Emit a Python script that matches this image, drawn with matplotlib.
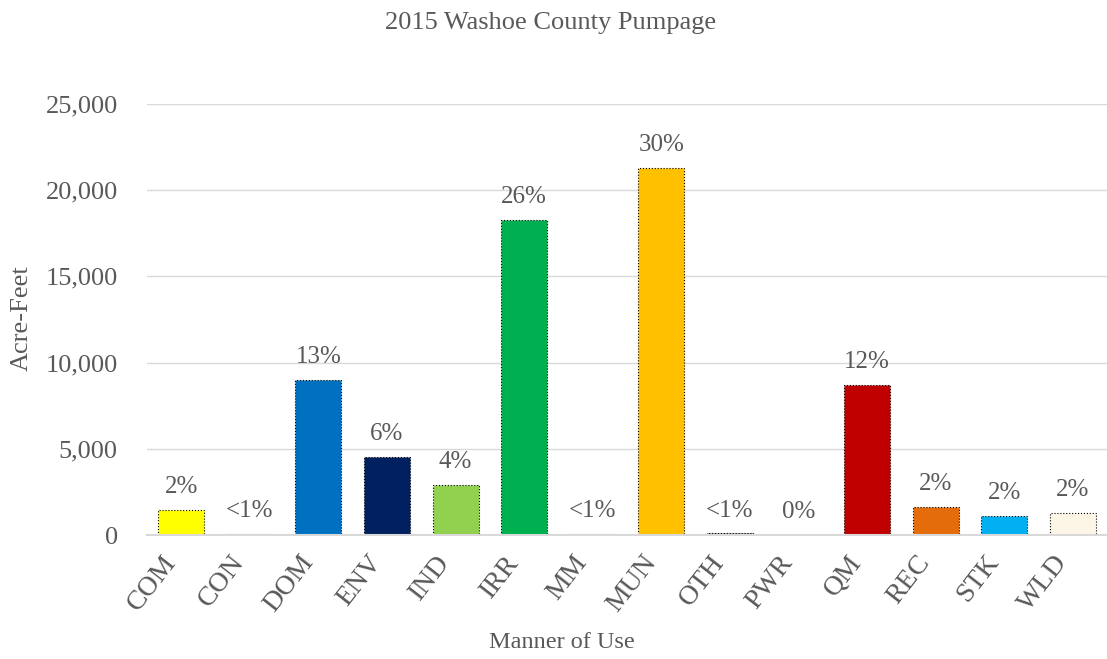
import matplotlib
matplotlib.use("Agg")
import matplotlib.pyplot as plt
from matplotlib.ticker import FuncFormatter

categories = ["COM", "CON", "DOM", "ENV", "IND", "IRR", "MM", "MUN", "OTH", "PWR", "QM", "REC", "STK", "WLD"]
values = [1450, 60, 9000, 4520, 2900, 18300, 50, 21300, 100, 0, 8700, 1620, 1100, 1270]
pct_labels = ["2%", "<1%", "13%", "6%", "4%", "26%", "<1%", "30%", "<1%", "0%", "12%", "2%", "2%", "2%"]
colors = ["#FFFF00", "#D0D0D0", "#0070C0", "#002060", "#92D050", "#00B050", "#D0D0D0",
          "#FFC000", "#595959", "#FFFFFF", "#C00000", "#E46C0A", "#00B0F0", "#FDF5E6"]
yticks = [0, 5000, 10000, 15000, 20000, 25000]

TXT = "#595959"
FONT = "Liberation Serif"
plt.rcParams["font.family"] = [FONT, "DejaVu Serif"]

W, H = 1107, 659
fig = plt.figure(figsize=(W / 100, H / 100), dpi=100)
ax = fig.add_axes([147 / W, 1 - 535 / H, (W - 147) / W, (535 - 104) / H])

x = list(range(len(categories)))
bars = ax.bar(x, values, width=0.67, color=colors, edgecolor="black",
              linewidth=0.8, linestyle=":", zorder=3)

for xi, v, lab in zip(x, values, pct_labels):
    ax.annotate(lab, (xi, v), xytext=(0, 12), textcoords="offset points",
                ha="center", va="baseline", fontsize=18, color=TXT)

ax.set_xlim(-0.5, len(categories) - 0.5)
ax.set_ylim(0, 25000)
ax.set_yticks(yticks)
ax.yaxis.set_major_formatter(FuncFormatter(lambda v, p: f"{int(v):,}"))
ax.grid(axis="y", color="#D9D9D9", linewidth=1.0, zorder=0)
ax.set_axisbelow(True)
for s in ["top", "right", "left"]:
    ax.spines[s].set_visible(False)
ax.spines["bottom"].set_color("#D9D9D9")
ax.spines["bottom"].set_linewidth(1.5)
ax.spines["bottom"].set_zorder(4)

ax.set_xticks(x)
ax.set_xticklabels(categories, rotation=52, ha="right", va="top", fontsize=20, color=TXT)
ax.tick_params(axis="x", length=0, pad=11)
ax.tick_params(axis="y", length=0, pad=21, labelsize=19, labelcolor=TXT)

fig.text(551 / W, 1 - 29 / H, "2015 Washoe County Pumpage", ha="center", va="baseline",
         fontsize=19, color=TXT)
fig.text(562 / W, 1 - 643 / H, "Manner of Use", ha="center", va="center",
         fontsize=17.5, color=TXT)
fig.text(22 / W, 1 - 318 / H, "Acre-Feet", ha="center", va="center", rotation=90,
         fontsize=19, color=TXT)

fig.savefig("out.png", dpi=100, facecolor="white")
